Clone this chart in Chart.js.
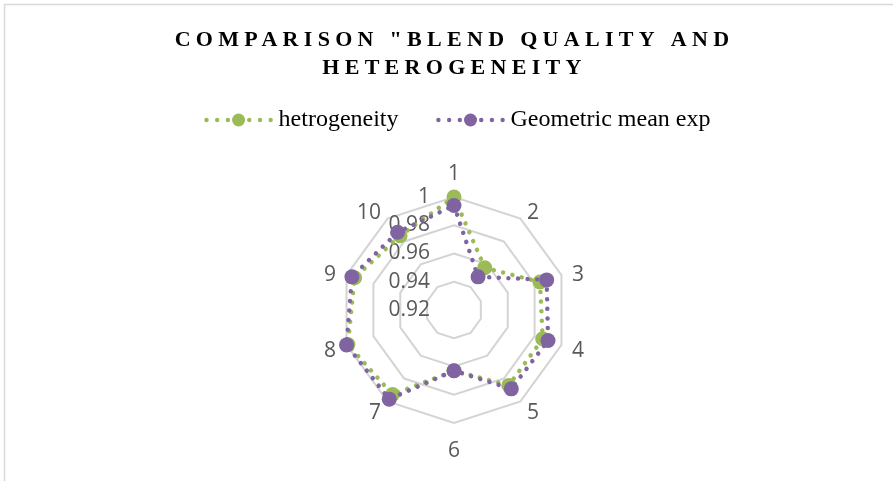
<!DOCTYPE html>
<html>
<head>
<meta charset="utf-8">
<script src="https://cdn.jsdelivr.net/npm/chart.js@4"></script>
<style>
html, body { margin: 0; padding: 0; background: #fff; }
canvas { display: block; }
</style>
</head>
<body>
<canvas id="radarChart" width="893" height="481"></canvas>
<script>
var categories = ["1", "2", "3", "4", "5", "6", "7", "8", "9", "10"];
var hetrogeneity = [1.000, 0.957, 0.984, 0.986, 0.986, 0.963, 0.994, 0.999, 0.994, 0.985];
var geometricMeanExp = [0.994, 0.949, 0.989, 0.990, 0.989, 0.963, 0.998, 1.000, 0.996, 0.988];
var tickValues = [0.92, 0.94, 0.96, 0.98, 1];
var tickLabels = ["0.92", "0.94", "0.96", "0.98", "1"];
var seriesNames = ["hetrogeneity", "Geometric mean exp"];
var seriesColors = ["#9bbb59", "#8064a2"];
var titleLines = ['COMPARISON "BLEND QUALITY AND', "HETEROGENEITY"];

// thin grey frame on the top and left edge
var framePlugin = {
	id: "frame",
	beforeDraw: function (chart) {
		var ctx = chart.ctx;
		ctx.save();
		ctx.strokeStyle = "#d9d9d9";
		ctx.lineWidth = 1.5;
		ctx.beginPath();
		ctx.moveTo(4.5, chart.height);
		ctx.lineTo(4.5, 4.5);
		ctx.lineTo(chart.width, 4.5);
		ctx.stroke();
		ctx.restore();
	}
};

// title letters are spaced out
var spacedTitle = {
	id: "spacedTitle",
	afterInit: function (chart) {
		var block = chart.titleBlock;
		var draw = block.draw;
		block.draw = function () {
			this.ctx.save();
			this.ctx.letterSpacing = "5.3px";
			draw.apply(this, arguments);
			this.ctx.restore();
		};
	}
};

// value labels left of the first spoke, category labels around the web
var axisText = {
	id: "axisText",
	beforeDatasetsDraw: function (chart) {
		var r = chart.scales.r;
		var ctx = chart.ctx;
		ctx.save();
		ctx.font = "21px 'Open Sans'";
		ctx.fillStyle = "#595959";
		ctx.textBaseline = "middle";
		ctx.textAlign = "right";
		tickValues.forEach(function (v, i) {
			ctx.fillText(tickLabels[i], r.xCenter - 24, r.yCenter - r.getDistanceFromCenterForValue(v));
		});
		categories.forEach(function (label, i) {
			var a = r.getIndexAngle(i);
			var s = Math.sin(a);
			var p = r.getPointPosition(i, r.drawingArea + 11);
			if (Math.abs(s) < 0.01) {
				ctx.textAlign = "center";
				ctx.fillText(label, p.x, Math.cos(a) > 0 ? p.y - 12 : p.y + 17);
			} else {
				ctx.textAlign = s > 0 ? "left" : "right";
				ctx.fillText(label, p.x, p.y + 3);
			}
		});
		ctx.restore();
	}
};

// legend: dotted line with a big marker, then the series name
var seriesLegend = {
	id: "seriesLegend",
	afterDraw: function (chart) {
		var ctx = chart.ctx;
		var y = 120;
		ctx.save();
		ctx.font = "24px 'Liberation Serif'";
		ctx.textBaseline = "middle";
		ctx.textAlign = "left";
		var widths = seriesNames.map(function (n) { return ctx.measureText(n).width; });
		var total = 74 * seriesNames.length + 38 * (seriesNames.length - 1);
		widths.forEach(function (w) { total += w; });
		var x = (chart.chartArea.left + chart.chartArea.right) / 2 + 3 - total / 2;
		seriesNames.forEach(function (name, i) {
			var c = x + 34;
			ctx.fillStyle = seriesColors[i];
			for (var k = -3; k <= 3; k++) {
				ctx.beginPath();
				ctx.arc(c + k * 10.7, y, k === 0 ? 6.5 : 2.2, 0, Math.PI * 2);
				ctx.fill();
			}
			ctx.fillStyle = "#000";
			ctx.fillText(name, x + 74, y);
			x += 74 + widths[i] + 38;
		});
		ctx.restore();
	}
};

function seriesStyle(i, order) {
	return {
		borderColor: seriesColors[i],
		backgroundColor: seriesColors[i],
		pointBackgroundColor: seriesColors[i],
		borderWidth: 4.5,
		borderDash: [0.01, 9.6],
		borderCapStyle: "round",
		pointRadius: 7.5,
		pointHoverRadius: 7.5,
		pointBorderWidth: 0,
		fill: false,
		tension: 0,
		order: order
	};
}

var green = seriesStyle(0, 2);
green.label = seriesNames[0];
green.data = hetrogeneity;
var purple = seriesStyle(1, 1);
purple.label = seriesNames[1];
purple.data = geometricMeanExp;

var radar = new Chart(document.getElementById("radarChart"), {
	type: "radar",
	data: {
		labels: categories,
		datasets: [green, purple]
	},
	options: {
		responsive: false,
		animation: false,
		devicePixelRatio: 1,
		events: [],
		layout: { padding: { top: 0, left: 16, right: 0, bottom: 58 } },
		scales: {
			r: {
				min: tickValues[0],
				max: tickValues[tickValues.length - 1],
				afterBuildTicks: function (s) {
					s.ticks = tickValues.map(function (v) { return { value: v }; });
				},
				ticks: { display: false },
				grid: { color: "#d4d4d4", lineWidth: 2 },
				angleLines: { display: false },
				pointLabels: { display: false }
			}
		},
		plugins: {
			legend: { display: false },
			tooltip: { enabled: false },
			title: {
				display: true,
				text: titleLines,
				color: "#000",
				font: { family: "'Liberation Serif'", size: 22, weight: "bold", lineHeight: 28 / 22 },
				padding: { top: 26, bottom: 115 }
			}
		}
	},
	plugins: [framePlugin, spacedTitle, axisText, seriesLegend]
});
</script>
</body>
</html>
